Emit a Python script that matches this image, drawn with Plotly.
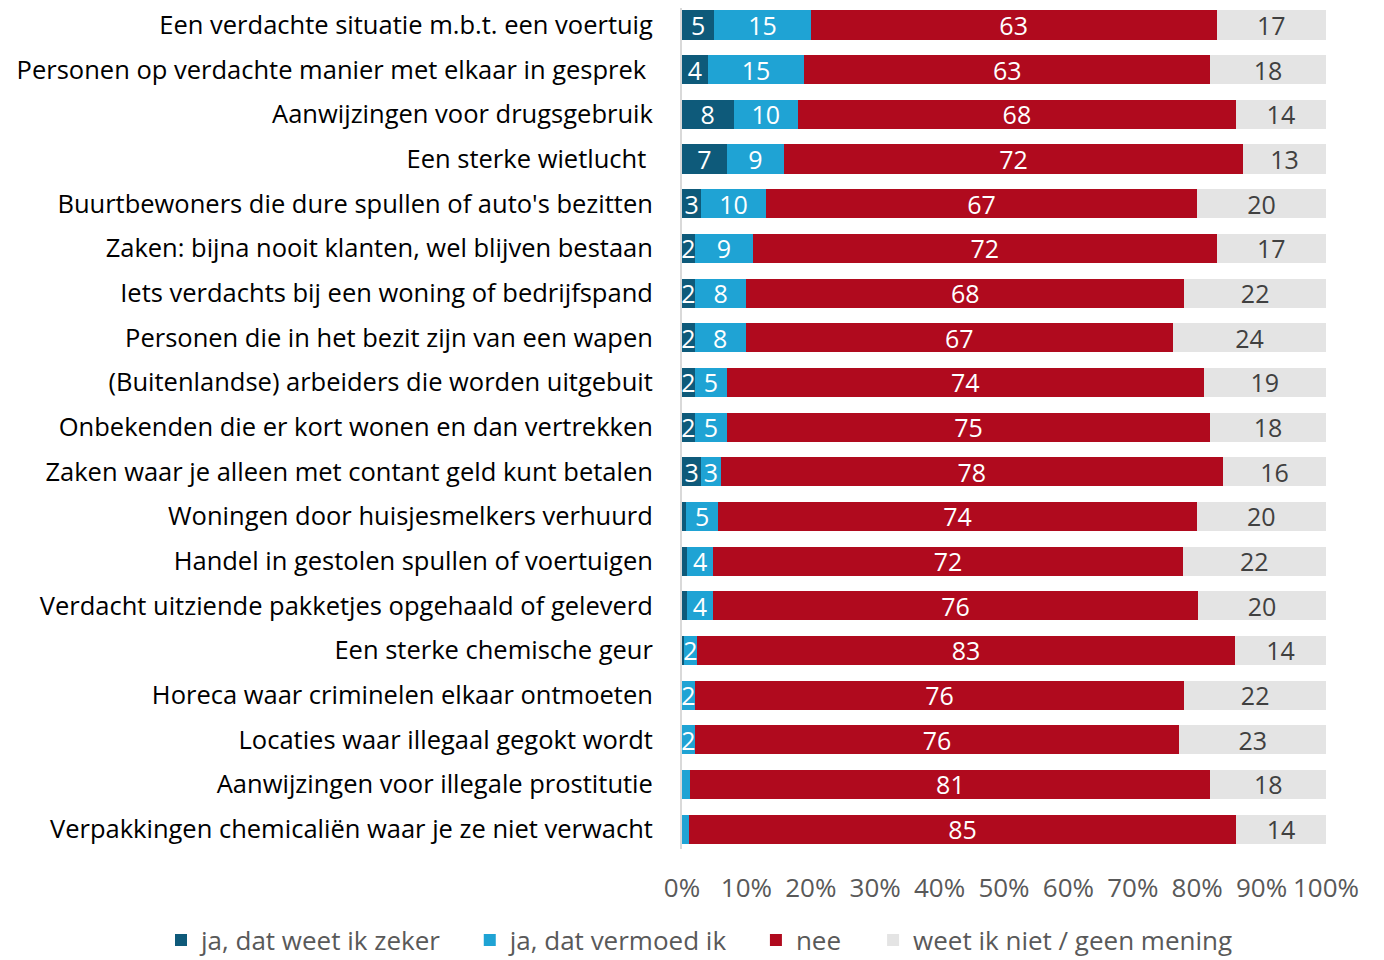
import plotly.graph_objects as go

categories = [
    "Een verdachte situatie m.b.t. een voertuig",
    "Personen op verdachte manier met elkaar in gesprek\u00a0",
    "Aanwijzingen voor drugsgebruik",
    "Een sterke wietlucht\u00a0",
    "Buurtbewoners die dure spullen of auto's bezitten",
    "Zaken: bijna nooit klanten, wel blijven bestaan",
    "Iets verdachts bij een woning of bedrijfspand",
    "Personen die in het bezit zijn van een wapen",
    "(Buitenlandse) arbeiders die worden uitgebuit",
    "Onbekenden die er kort wonen en dan vertrekken",
    "Zaken waar je alleen met contant geld kunt betalen",
    "Woningen door huisjesmelkers verhuurd",
    "Handel in gestolen spullen of voertuigen",
    "Verdacht uitziende pakketjes opgehaald of geleverd",
    "Een sterke chemische geur",
    "Horeca waar criminelen elkaar ontmoeten",
    "Locaties waar illegaal gegokt wordt",
    "Aanwijzingen voor illegale prostitutie",
    "Verpakkingen chemicaliën waar je ze niet verwacht",
]

ja_zeker = [5, 4, 8, 7, 3, 2, 2, 2, 2, 2, 3, 0.6, 0.8, 0.8, 0.3, 0, 0, 0, 0]
ja_vermoed = [15, 15, 10, 9, 10, 9, 8, 8, 5, 5, 3, 5, 4, 4, 2, 2, 2, 1.3, 1.1]
nee = [63, 63, 68, 72, 67, 72, 68, 67, 74, 75, 78, 74, 72, 76, 83, 76, 76, 81, 85]
weet_niet = [17, 18, 14, 13, 20, 17, 22, 24, 19, 18, 16, 20, 22, 20, 14, 22, 23, 18, 14]

series_names = ["ja, dat weet ik zeker", "ja, dat vermoed ik", "nee", "weet ik niet / geen mening"]
series_values = [ja_zeker, ja_vermoed, nee, weet_niet]
colors = ["#0E5A7A", "#1FA3D4", "#B00A1E", "#E4E4E4"]
text_colors = ["white", "white", "white", "#404040"]

FONT = "Open Sans"
pads = ["\u00a0" * 3 + "\u200a", "\u00a0" * 3 + "\u200a", "\u00a0" * 4, ""]

fig = go.Figure()
for i, (name, vals) in enumerate(zip(series_names, series_values)):
    txt = [str(int(round(v))) if v >= 1.5 else "" for v in vals]
    fig.add_trace(go.Bar(
        name=name + pads[i], y=categories, x=vals, orientation="h",
        marker=dict(color=colors[i], line=dict(width=0)),
        text=txt, textposition="inside", insidetextanchor="middle",
        textangle=0, constraintext="none", cliponaxis=False,
        textfont=dict(color=text_colors[i], size=25, family=FONT),
    ))

W, H = 1376, 952
L, R, T, B = 674, 58, 0, 111
plot_h = H - T - B
row_px = 44.67
top_center = 17.0
r0 = -top_center / row_px
r1 = r0 + plot_h / row_px

fig.update_layout(
    barmode="stack", barnorm="percent", bargap=0.35,
    width=W, height=H,
    margin=dict(l=L, r=R, t=T, b=B, autoexpand=False),
    paper_bgcolor="white", plot_bgcolor="white",
    font=dict(family=FONT, size=25.5, color="#000000"),
    uniformtext=dict(mode="show", minsize=25),
    showlegend=True,
    legend=dict(orientation="h", xref="paper", yref="paper",
                x=(153 - L) / 644, xanchor="left",
                y=(plot_h - 932) / plot_h, yanchor="middle",
                font=dict(size=26, color="#595959"), traceorder="normal",
                itemwidth=30),
)
fig.update_xaxes(range=[0, 100], tickvals=list(range(0, 101, 10)),
                 ticktext=[f"{v}%" for v in range(0, 101, 10)],
                 showgrid=False, zeroline=False, showline=False,
                 ticks="outside", ticklen=16, tickcolor="rgba(0,0,0,0)",
                 automargin=False,
                 tickfont=dict(size=26, color="#595959"))
fig.update_yaxes(autorange=False, range=[r1, r0],
                 showgrid=False, zeroline=False,
                 showline=True, linecolor="#D9D9D9", linewidth=2,
                 ticks="outside", ticklen=22, tickcolor="rgba(0,0,0,0)",
                 automargin=False,
                 tickfont=dict(size=25.5, color="#000000"))

fig.write_html("out.html")
